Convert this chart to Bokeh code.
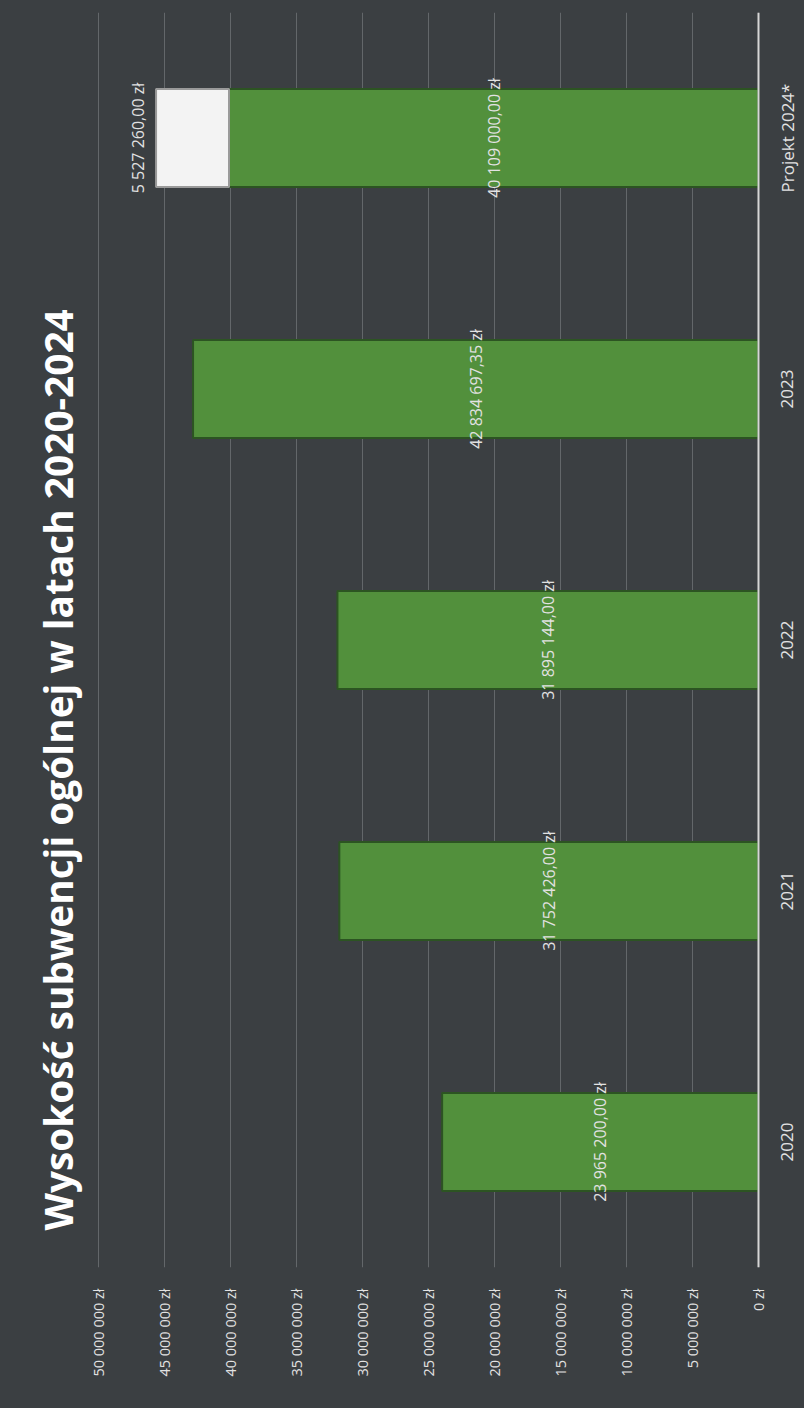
import math
from bokeh.plotting import figure
from bokeh.models import ColumnDataSource, Range1d, FactorRange, FixedTicker, Span, Label
from bokeh.core.properties import value
from bokeh.embed import file_html
from bokeh.resources import INLINE

# ---- data ----
categories = ["2020", "2021", "2022", "2023", "Projekt 2024*"]
base_values = [23965200.00, 31752426.00, 31895144.00, 42834697.35, 40109000.00]
extra_values = [0, 0, 0, 0, 5527260.00]
tick_values = [0, 5000000, 10000000, 15000000, 20000000, 25000000,
               30000000, 35000000, 40000000, 45000000, 50000000]
tick_labels = ["0 zł", "5 000 000 zł", "10 000 000 zł", "15 000 000 zł", "20 000 000 zł",
               "25 000 000 zł", "30 000 000 zł", "35 000 000 zł", "40 000 000 zł",
               "45 000 000 zł", "50 000 000 zł"]
title_text = "Wysokość subwencji ogólnej w latach 2020-2024"


def fmt(v):
    return f"{v:,.2f}".replace(",", " ").replace(".", ",") + " zł"


BG = "#3b3f42"
GREEN = "#52903c"
TXT = "#e2e2e2"
FONT = "Open Sans"

p = figure(
    width=804, height=1408,
    x_range=Range1d(start=57.42e6, end=-3.485e6),
    y_range=FactorRange(factors=categories, range_padding=0),
    output_backend="svg", toolbar_location=None,
    x_axis_location="below", y_axis_location=None,
    min_border_left=0, min_border_right=0, min_border_top=12, min_border_bottom=141,
)
p.styles = {"background-color": BG}
p.background_fill_color = None
p.border_fill_color = None
p.outline_line_color = None

# bars
src_base = ColumnDataSource(dict(
    cat=categories, left=[0] * len(base_values), right=base_values,
    mid=[v / 2 for v in base_values], label=[fmt(v) for v in base_values],
))
p.hbar(y="cat", left="left", right="right", height=0.39, source=src_base,
       fill_color=GREEN, line_color="#2c5422", line_width=2)

ex_cat = [c for c, e in zip(categories, extra_values) if e > 0]
ex_left = [b for b, e in zip(base_values, extra_values) if e > 0]
ex_val = [e for e in extra_values if e > 0]
src_extra = ColumnDataSource(dict(
    cat=ex_cat, left=ex_left, right=[l + e for l, e in zip(ex_left, ex_val)],
    label=[fmt(e) for e in ex_val],
))
p.hbar(y="cat", left="left", right="right", height=0.39, source=src_extra,
       fill_color="#f3f3f3", line_color="#9a9a9a", line_width=2)

# baseline at zero
p.add_layout(Span(location=0, dimension="height", line_color="#d6d6d6", line_width=2))

# data labels
p.text(x="mid", y="cat", text="label", source=src_base, angle=math.pi / 2,
       text_align="center", text_baseline="middle", text_color=TXT,
       text_font=value(FONT), text_font_size="16px")
p.text(x="right", y="cat", text="label", source=src_extra, angle=math.pi / 2,
       text_align="center", text_baseline="bottom", x_offset=-7, text_color=TXT,
       text_font=value(FONT), text_font_size="16px")

# category labels (right of the zero line)
src_cat = ColumnDataSource(dict(cat=categories, x=[0] * len(categories)))
p.text(x="x", y="cat", text="cat", source=src_cat, angle=math.pi / 2,
       text_align="center", text_baseline="middle", x_offset=29, text_color=TXT,
       text_font=value(FONT), text_font_size="17px")

# value axis
xa = p.xaxis[0]
xa.ticker = FixedTicker(ticks=tick_values)
xa.major_label_overrides = {t: l for t, l in zip(tick_values, tick_labels)}
xa.major_label_orientation = math.pi / 2
xa.major_label_standoff = 21
xa.major_tick_out = 0
xa.major_tick_in = 0
xa.minor_tick_line_color = None
xa.major_tick_line_color = None
xa.axis_line_color = None
xa.major_label_text_color = TXT
xa.major_label_text_font = FONT
xa.major_label_text_font_size = "14.5px"

p.xgrid.grid_line_color = "#7e8285"
p.xgrid.grid_line_width = 1
p.xgrid.grid_line_alpha = 0.6
p.ygrid.grid_line_color = None

# title
p.add_layout(Label(x=53.1e6, y=0.147, text=title_text, angle=math.pi / 2,
                   text_align="left", text_baseline="alphabetic",
                   text_color="#ffffff", text_font=FONT, text_font_style="bold",
                   text_font_size="38.8px"))

open("out.html", "w").write(file_html(p, INLINE))
